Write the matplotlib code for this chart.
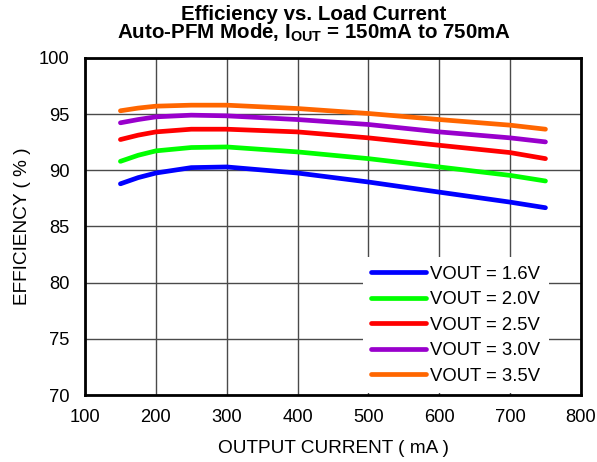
import matplotlib
matplotlib.use("Agg")
import matplotlib.pyplot as plt

plt.rcParams['font.family'] = ['Liberation Sans', 'DejaVu Sans']
plt.rcParams['mathtext.fontset'] = 'custom'
plt.rcParams['mathtext.rm'] = 'Liberation Sans'
plt.rcParams['mathtext.bf'] = 'Liberation Sans:bold'

# load current (mA)
current = [150, 175, 200, 250, 300, 400, 500, 600, 700, 750]

# efficiency (%)
eff_16 = [88.8, 89.35, 89.76, 90.24, 90.3, 89.76, 88.96, 88.06, 87.17, 86.67]
eff_20 = [90.8, 91.34, 91.73, 92.03, 92.08, 91.64, 91.04, 90.3, 89.55, 89.05]
eff_25 = [92.74, 93.13, 93.42, 93.66, 93.66, 93.42, 92.89, 92.23, 91.58, 91.04]
eff_30 = [94.23, 94.52, 94.76, 94.91, 94.85, 94.52, 94.08, 93.42, 92.89, 92.53]
eff_35 = [95.3, 95.54, 95.71, 95.8, 95.8, 95.5, 95.06, 94.52, 94.02, 93.66]

labels = ['VOUT = 1.6V', 'VOUT = 2.0V', 'VOUT = 2.5V', 'VOUT = 3.0V', 'VOUT = 3.5V']
colors = ['#0000FF', '#00FF00', '#FF0000', '#9900CC', '#FF6600']

fig = plt.figure(figsize=(5.97, 4.62), dpi=100)
ax = fig.add_axes([0.1424, 0.145, 0.8306, 0.7295])

for series, lab, col in zip([eff_16, eff_20, eff_25, eff_30, eff_35], labels, colors):
    ax.plot(current, series, color=col, lw=3.4, label=lab, solid_capstyle='round')

ax.set_xlim(100, 800)
ax.set_ylim(70, 100)
ax.set_xticks(range(100, 801, 100))
ax.set_yticks(range(70, 101, 5))
ax.grid(True, color='#4a4a4a', lw=1)
ax.set_axisbelow(True)
ax.tick_params(length=0, labelsize=13.2)
ax.tick_params(axis='x', pad=10)
ax.tick_params(axis='y', pad=11)
for s in ax.spines.values():
    s.set_linewidth(2)

ax.set_xlabel('OUTPUT CURRENT ( mA )', fontsize=13.7, labelpad=10)
ax.set_ylabel('EFFICIENCY ( % )', fontsize=13.7, labelpad=6)

# two-line title as one text
fig.text(0.526, 0.946, 'Efficiency vs. Load Current\n'
         r'Auto-PFM Mode, $\mathbf{I_{OUT}}$ = 150mA to 750mA',
         ha='center', va='center', fontsize=14.8, fontweight='bold',
         linespacing=0.86)

leg = ax.legend(loc='lower right', bbox_to_anchor=(0.9536, -0.021), fontsize=13.3,
                frameon=True, fancybox=False, edgecolor='none', facecolor='white',
                framealpha=1, handlelength=2.98, handletextpad=0.22,
                labelspacing=0.46, borderpad=0.45)
leg.set_zorder(2.2)  # keep spines on top of the white legend box

plt.savefig('out.png', dpi=100)
